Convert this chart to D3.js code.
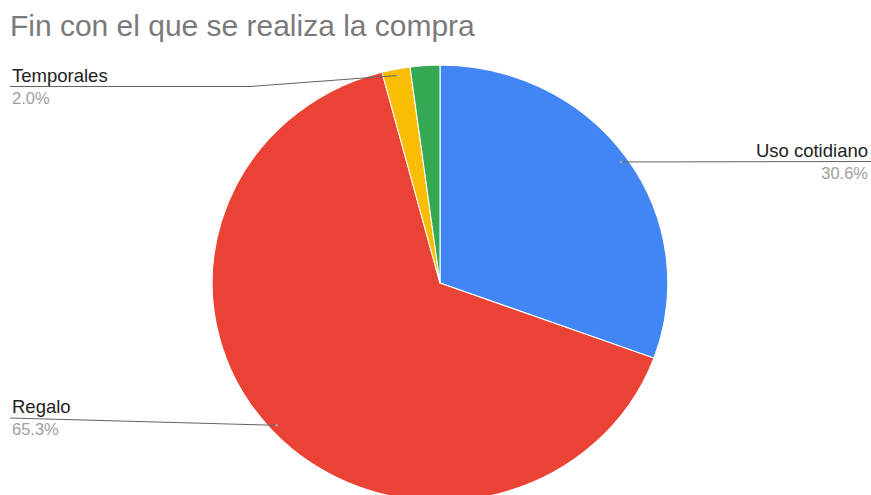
<!DOCTYPE html>
<html>
<head>
<meta charset="utf-8">
<script src="https://cdn.jsdelivr.net/npm/d3@7"></script>
<style>
  html, body { margin: 0; padding: 0; background: #fff; }
  svg { display: block; font-family: Arial, "Liberation Sans", sans-serif; }
</style>
</head>
<body>
<svg id="chart" width="871" height="495"></svg>
<script>
// ---- data ----
const title = "Fin con el que se realiza la compra";
const categories = ["Uso cotidiano", "Regalo", "Temporales", "Otro"];
const values = [30.6, 65.3, 2.0, 2.1];
const percentLabels = ["30.6%", "65.3%", "2.0%", ""];
const colors = ["#4285f4", "#ea4335", "#fbbc04", "#34a853"];

// ---- layout ----
const W = 871, H = 495;
const cx = 440, cy = 283, r = 218, sx = 1.045;
const svg = d3.select("#chart");

// title
const t = svg.append("text")
  .attr("x", 10).attr("y", 36)
  .attr("fill", "#7a7a7a")
  .style("font-size", "25px")
  .text(title);
const tw = t.node().getComputedTextLength();
t.style("font-size", (25 * 465 / tw).toFixed(2) + "px");

const pie = d3.pie().sort(null).value(d => d)(values);
const arc = d3.arc().innerRadius(0).outerRadius(r);

const g = svg.append("g").attr("transform", `translate(${cx},${cy}) scale(${sx},1)`);
g.selectAll("path").data(pie).join("path")
  .attr("d", arc)
  .attr("fill", (d, i) => colors[i])
  .attr("stroke", "#fff")
  .attr("stroke-width", 1);

function anchor(d, k) {
  const a = (d.startAngle + d.endAngle) / 2;
  return [cx + Math.sin(a) * r * k * sx, cy - Math.cos(a) * r * k];
}

const labelLayout = [
  { i: 0, side: "right", lineY: 161.5, knee: null },
  { i: 1, side: "left", lineY: 418, knee: null },
  { i: 2, side: "left", lineY: 86.5, knee: 250 }
];

const lg = svg.append("g");
labelLayout.forEach(L => {
  const d = pie[L.i];
  const [ax, ay] = anchor(d, 0.97);
  const endX = L.side === "right" ? W : 10;
  const pts = L.knee != null
    ? [[ax, ay], [L.knee, L.lineY], [endX, L.lineY]]
    : [[ax, ay], [endX, L.lineY]];
  lg.append("path")
    .attr("d", d3.line()(pts))
    .attr("fill", "none")
    .attr("stroke", "#636363")
    .attr("stroke-width", 1);
  lg.append("circle").attr("cx", ax).attr("cy", ay).attr("r", 1.3)
    .attr("fill", "#bbb").attr("opacity", 0.7);
  const tx = L.side === "right" ? 868 : 12;
  const anchorTxt = L.side === "right" ? "end" : "start";
  lg.append("text")
    .attr("x", tx).attr("y", L.lineY - 5)
    .attr("text-anchor", anchorTxt)
    .attr("fill", "#222")
    .style("font-size", "18.5px")
    .text(categories[L.i]);
  lg.append("text")
    .attr("x", tx).attr("y", L.lineY + 17)
    .attr("text-anchor", anchorTxt)
    .attr("fill", "#9e9e9e")
    .style("font-size", "16.5px")
    .text(percentLabels[L.i]);
});
</script>
</body>
</html>
